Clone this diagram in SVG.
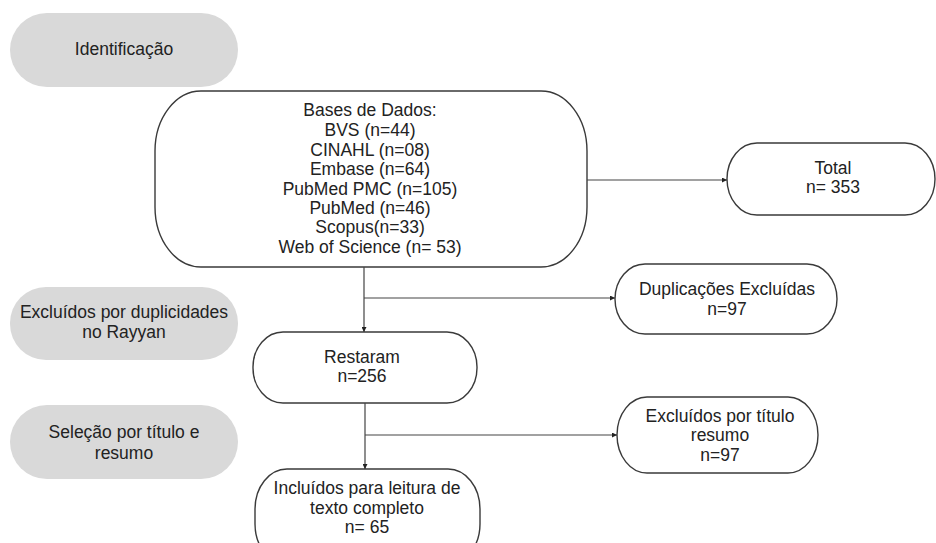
<svg xmlns="http://www.w3.org/2000/svg" width="936" height="543" viewBox="0 0 936 543">
<style>
  .stage { fill: #d9d9d9; stroke: none; }
  .box { fill: #ffffff; stroke: #3a3a3a; stroke-width: 1.4; }
  .t { font-family: "Liberation Sans", Arial, sans-serif; font-size: 17.5px; fill: #222222; text-anchor: middle; }
  .s { font-size: 16.5px; }
  .conn { stroke: #444444; stroke-width: 1.2; fill: none; marker-end: url(#arr); }
</style>
<defs>
  <marker id="arr" markerUnits="userSpaceOnUse" markerWidth="5" markerHeight="5" refX="5" refY="2.5" orient="auto">
    <path d="M0,0 L5,2.5 L0,5 z" fill="#222222"/>
  </marker>
</defs>
<rect width="936" height="543" fill="#ffffff"/>

<g id="identificacao">
  <rect class="stage" x="10" y="13" width="228" height="74" rx="37" ry="37"/>
  <text class="t" x="124" y="55">Identificação</text>
</g>

<g id="bases">
  <rect class="box" x="155" y="91" width="432" height="176" rx="46" ry="60"/>
  <text class="t" x="370" y="116">Bases de Dados:</text>
  <text class="t" x="370" y="136">BVS (n=44)</text>
  <text class="t" x="370" y="155.5">CINAHL (n=08)</text>
  <text class="t" x="370" y="175">Embase (n=64)</text>
  <text class="t" x="370" y="194.5">PubMed PMC (n=105)</text>
  <text class="t" x="370" y="214">PubMed (n=46)</text>
  <text class="t" x="370" y="233">Scopus(n=33)</text>
  <text class="t" x="370" y="252.5">Web of Science (n= 53)</text>
</g>

<g id="total">
  <rect class="box" x="727" y="143" width="208" height="72" rx="30" ry="36"/>
  <text class="t" x="833" y="174">Total</text>
  <text class="t" x="833" y="193">n= 353</text>
</g>

<g id="excluidos-duplicidades">
  <rect class="stage" x="10" y="287" width="228" height="73" rx="36" ry="36"/>
  <text class="t" x="124" y="318">Excluídos por duplicidades</text>
  <text class="t" x="124" y="338">no Rayyan</text>
</g>

<g id="duplicacoes">
  <rect class="box" x="615" y="264" width="222" height="70" rx="30" ry="35"/>
  <text class="t" x="727" y="295">Duplicações Excluídas</text>
  <text class="t" x="727" y="314.5">n=97</text>
</g>

<g id="restaram">
  <rect class="box" x="253" y="332" width="224" height="71" rx="30" ry="35"/>
  <text class="t" x="362" y="363">Restaram</text>
  <text class="t" x="362" y="382">n=256</text>
</g>

<g id="selecao">
  <rect class="stage" x="10" y="405" width="228" height="74" rx="37" ry="37"/>
  <text class="t" x="124" y="438">Seleção por título e</text>
  <text class="t" x="124" y="459">resumo</text>
</g>

<g id="excluidos-titulo">
  <rect class="box" x="617" y="397" width="201" height="76" rx="30" ry="38"/>
  <text class="t" x="720" y="421.5">Excluídos por título</text>
  <text class="t" x="720" y="441">resumo</text>
  <text class="t" x="720" y="460.5">n=97</text>
</g>

<g id="incluidos">
  <rect class="box" x="255" y="469" width="225" height="95" rx="32" ry="40"/>
  <text class="t" x="367" y="494">Incluídos para leitura de</text>
  <text class="t" x="367" y="514">texto completo</text>
  <text class="t" x="367" y="533">n= 65</text>
</g>

<g id="connectors">
  <path class="conn" d="M587,180 H727"/>
  <path class="conn" d="M364,267 V332"/>
  <path class="conn" d="M364,298 H615"/>
  <path class="conn" d="M365,403 V469"/>
  <path class="conn" d="M365,435 H617"/>
</g>
</svg>
